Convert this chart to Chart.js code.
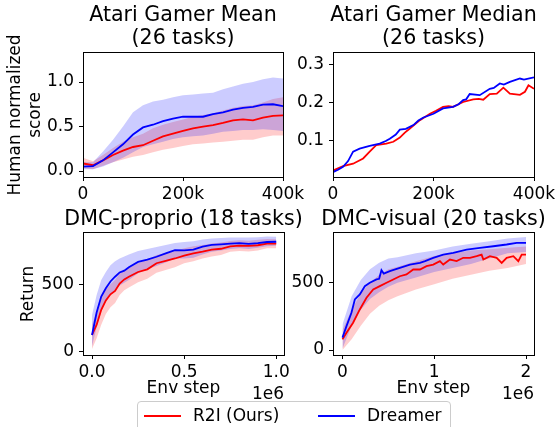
<!DOCTYPE html>
<html>
<head>
<meta charset="utf-8">
<script src="https://cdn.jsdelivr.net/npm/chart.js@4/dist/chart.umd.min.js"></script>
<style>
  body { margin: 0; width: 556px; height: 427px; overflow: hidden; background: #fff; position: relative;
         font-family: 'DejaVu Sans', sans-serif; color: #000; }
  canvas { position: absolute; }
  .title { position: absolute; font-size: 20.6px; line-height: 22.3px; text-align: center; white-space: nowrap; transform: translateX(-50%); }
  .lab { position: absolute; font-size: 17px; line-height: 20.4px; white-space: nowrap; }
  .ylab { position: absolute; font-size: 17px; line-height: 20.4px; white-space: nowrap; text-align: center;
          transform: translate(-50%, -50%) rotate(-90deg); }
  .legend { position: absolute; left: 137px; top: 401px; width: 314px; height: 40px; border: 1px solid #cccccc;
            border-radius: 4px; background: rgba(255,255,255,0.8); box-sizing: border-box; }
  .swatch { position: absolute; height: 2px; top: 13px; }
</style>
</head>
<body>
<canvas id="meanChart" width="313" height="171" style="left:0px;top:36px"></canvas>
<canvas id="medianChart" width="274" height="171" style="left:290px;top:36px"></canvas>
<canvas id="proprioChart" width="314" height="169" style="left:0px;top:216px"></canvas>
<canvas id="visualChart" width="274" height="169" style="left:290px;top:216px"></canvas>

<div class="title" style="left:183px;top:3.4px">Atari Gamer Mean<br>(26 tasks)</div>
<div class="title" style="left:433.5px;top:3.4px">Atari Gamer Median<br>(26 tasks)</div>
<div class="title" style="left:183.5px;top:206.7px">DMC-proprio (18 tasks)</div>
<div class="title" style="left:433.5px;top:206.7px">DMC-visual (20 tasks)</div>

<div class="ylab" style="left:24.3px;top:114.5px">Human normalized<br>score</div>
<div class="ylab" style="left:27.2px;top:293.5px">Return</div>

<div class="lab" style="left:183.5px;top:377px;transform:translateX(-50%)">Env step</div>
<div class="lab" style="left:433.5px;top:377px;transform:translateX(-50%)">Env step</div>
<div class="lab" style="right:272px;top:383px">1e6</div>
<div class="lab" style="right:22px;top:383px">1e6</div>

<div class="legend">
  <div class="swatch" style="left:6px;width:37px;background:#ff0000"></div>
  <div class="lab" style="left:55px;top:3px">R2I (Ours)</div>
  <div class="swatch" style="left:180px;width:37px;background:#0000ff"></div>
  <div class="lab" style="left:229px;top:3px">Dreamer</div>
</div>

<script>
// Atari gamer mean (x in thousands of env steps)
const atariX = [0, 20, 40, 60, 80, 100, 120, 140, 160, 180, 200, 220, 240, 260, 280, 300, 320, 340, 360, 380, 400];
const meanDreamer = [0.05, 0.055, 0.12, 0.21, 0.30, 0.41, 0.49, 0.52, 0.56, 0.59, 0.61, 0.61, 0.61, 0.64, 0.66, 0.69, 0.71, 0.72, 0.745, 0.75, 0.73];
const meanDreamerHi = [0.10, 0.10, 0.22, 0.35, 0.50, 0.66, 0.74, 0.78, 0.80, 0.83, 0.85, 0.86, 0.87, 0.88, 0.92, 0.95, 0.98, 1.00, 1.03, 1.05, 1.04];
const meanDreamerLo = [0.02, 0.02, 0.05, 0.10, 0.15, 0.21, 0.27, 0.30, 0.33, 0.36, 0.38, 0.39, 0.40, 0.42, 0.44, 0.45, 0.46, 0.46, 0.47, 0.46, 0.45];
const meanR2I = [0.085, 0.065, 0.12, 0.18, 0.23, 0.27, 0.29, 0.34, 0.39, 0.42, 0.45, 0.48, 0.50, 0.515, 0.54, 0.57, 0.58, 0.57, 0.60, 0.62, 0.625];
const meanR2IHi = [0.15, 0.11, 0.18, 0.26, 0.33, 0.38, 0.42, 0.48, 0.52, 0.55, 0.58, 0.61, 0.63, 0.65, 0.68, 0.71, 0.73, 0.74, 0.77, 0.81, 0.83];
const meanR2ILo = [0.03, 0.02, 0.06, 0.10, 0.13, 0.16, 0.18, 0.21, 0.24, 0.26, 0.28, 0.30, 0.31, 0.32, 0.33, 0.34, 0.35, 0.35, 0.38, 0.40, 0.40];

// Atari gamer median
const medianDreamerX = [0, 10, 20, 30, 40, 53, 73, 93, 105, 113, 125, 133, 145, 160, 170, 180, 200, 219, 239, 250, 259, 265, 272, 292, 312, 320, 332, 340, 352, 372, 380, 400];
const medianDreamer = [0.016, 0.022, 0.03, 0.045, 0.07, 0.078, 0.085, 0.091, 0.098, 0.104, 0.115, 0.128, 0.13, 0.14, 0.152, 0.16, 0.17, 0.184, 0.188, 0.195, 0.206, 0.208, 0.222, 0.219, 0.236, 0.238, 0.25, 0.247, 0.254, 0.263, 0.26, 0.266];
const medianR2IX = [0, 20, 40, 60, 73, 86, 106, 120, 133, 143, 153, 173, 193, 205, 219, 230, 239, 259, 279, 290, 299, 312, 326, 339, 352, 372, 382, 389, 400];
const medianR2I = [0.02, 0.032, 0.038, 0.052, 0.07, 0.087, 0.091, 0.096, 0.107, 0.12, 0.131, 0.153, 0.17, 0.178, 0.188, 0.19, 0.188, 0.201, 0.208, 0.209, 0.207, 0.222, 0.223, 0.239, 0.223, 0.22, 0.228, 0.245, 0.236];

// DMC-proprio (x in 1e6 env steps)
const proprioX = [0, 0.025, 0.05, 0.075, 0.1, 0.125, 0.15, 0.175, 0.2, 0.25, 0.3, 0.35, 0.4, 0.45, 0.5, 0.55, 0.6, 0.65, 0.7, 0.75, 0.8, 0.85, 0.9, 0.95, 1.0];
const proprioDreamer = [124, 290, 408, 470, 520, 555, 587, 600, 625, 665, 682, 703, 728, 752, 750, 755, 778, 790, 795, 800, 803, 798, 804, 812, 814];
const proprioDreamerHi = [272, 420, 530, 590, 640, 670, 690, 705, 720, 745, 760, 775, 790, 805, 812, 818, 830, 838, 842, 845, 846, 845, 848, 852, 850];
const proprioDreamerLo = [40, 180, 300, 370, 420, 455, 490, 510, 530, 580, 610, 635, 660, 690, 690, 695, 720, 740, 750, 760, 765, 760, 770, 780, 785];
const proprioR2I = [124, 200, 310, 380, 425, 450, 505, 535, 555, 590, 610, 655, 672, 690, 712, 728, 740, 755, 762, 780, 785, 783, 788, 800, 800];
const proprioR2IHi = [200, 300, 400, 460, 500, 530, 580, 600, 620, 655, 680, 715, 730, 745, 765, 780, 790, 800, 808, 820, 825, 822, 828, 835, 833];
const proprioR2ILo = [20, 100, 200, 280, 330, 360, 420, 455, 475, 515, 540, 585, 605, 625, 655, 670, 690, 705, 715, 740, 745, 742, 750, 765, 765];

// DMC-visual (x in 1e6 env steps)
const visualDreamerX = [0, 0.044, 0.098, 0.135, 0.189, 0.244, 0.298, 0.371, 0.4, 0.425, 0.45, 0.516, 0.625, 0.735, 0.844, 0.9, 0.989, 1.098, 1.207, 1.353, 1.498, 1.644, 1.789, 1.898, 2.0];
const visualDreamer = [92, 178, 277, 376, 413, 475, 500, 525, 530, 594, 569, 587, 611, 636, 648, 661, 686, 710, 723, 747, 760, 772, 785, 797, 797];
const visualR2IX = [0, 0.044, 0.116, 0.189, 0.262, 0.335, 0.407, 0.48, 0.553, 0.625, 0.698, 0.771, 0.844, 0.916, 0.989, 1.062, 1.098, 1.171, 1.244, 1.316, 1.389, 1.462, 1.516, 1.535, 1.607, 1.68, 1.735, 1.789, 1.862, 1.916, 1.953, 2.0];
const visualR2I = [79, 129, 203, 302, 389, 450, 475, 500, 525, 549, 562, 599, 599, 624, 636, 661, 636, 673, 661, 686, 686, 698, 710, 673, 698, 686, 648, 686, 698, 661, 710, 710];
const visualBandX = [0, 0.1, 0.2, 0.3, 0.4, 0.5, 0.6, 0.8, 1.0, 1.2, 1.4, 1.6, 1.8, 2.0];
const visualDreamerHi = [190, 400, 520, 600, 650, 680, 690, 720, 740, 770, 790, 810, 830, 840];
const visualDreamerLo = [10, 180, 300, 380, 430, 470, 500, 540, 580, 610, 640, 680, 720, 730];
const visualR2IHi = [150, 300, 420, 500, 560, 600, 620, 660, 700, 720, 740, 750, 760, 770];
const visualR2ILo = [0, 80, 180, 270, 330, 370, 400, 450, 490, 530, 560, 590, 610, 640];

// tick values and labels
const atariXTicks = [0, 200, 400];
const atariXLabels = ['0', '200k', '400k'];
const meanYTicks = [0, 0.5, 1.0];
const meanYLabels = ['0.0', '0.5', '1.0'];
const medianYTicks = [0.1, 0.2, 0.3];
const medianYLabels = ['0.1', '0.2', '0.3'];
const proprioXTicks = [0, 0.5, 1.0];
const proprioXLabels = ['0.0', '0.5', '1.0'];
const visualXTicks = [0, 1, 2];
const visualXLabels = ['0', '1', '2'];
const returnYTicks = [0, 500];
const returnYLabels = ['0', '500'];

Chart.defaults.font.family = "'DejaVu Sans', sans-serif";
Chart.defaults.color = '#000';

const RED = '#ff0000';
const BLUE = '#0000ff';

function pts(xs, ys) {
    return xs.map((x, i) => ({ x: x, y: ys[i] }));
}

function lineSet(xs, ys, color) {
    return { data: pts(xs, ys), borderColor: color, borderWidth: 1.8, pointRadius: 0, tension: 0, fill: false };
}

function bandSets(xs, hi, lo, fillColor) {
    return [
        { data: pts(xs, hi), borderColor: 'transparent', borderWidth: 0, pointRadius: 0, tension: 0, fill: '+1', backgroundColor: fillColor },
        { data: pts(xs, lo), borderColor: 'transparent', borderWidth: 0, pointRadius: 0, tension: 0, fill: false }
    ];
}

// draws the four spines
const frame = {
    id: 'frame',
    afterDraw(chart) {
        const { ctx, chartArea: a } = chart;
        ctx.save();
        ctx.strokeStyle = '#000';
        ctx.lineWidth = 1;
        ctx.strokeRect(Math.round(a.left) + 0.5, Math.round(a.top) + 0.5,
            Math.round(a.right) - Math.round(a.left), Math.round(a.bottom) - Math.round(a.top));
        ctx.restore();
    }
};

function axis(min, max, ticks, labels, fitSize, isY) {
    return {
        type: 'linear',
        min: min,
        max: max,
        grid: { display: true, drawOnChartArea: false, drawTicks: true, tickLength: 4, color: '#000', lineWidth: 1 },
        border: { display: false },
        afterBuildTicks: scale => { scale.ticks = ticks.map(v => ({ value: v })); },
        afterFit: scale => { if (isY) scale.width = fitSize; else scale.height = fitSize; },
        ticks: {
            autoSkip: false,
            maxRotation: 0,
            padding: isY ? 5 : 3,
            font: { size: 17 },
            color: '#000',
            callback: (v, i) => labels[i]
        }
    };
}

function makeChart(id, datasets, xAxis, yAxis) {
    new Chart(document.getElementById(id), {
        type: 'line',
        data: { datasets: datasets },
        options: {
            responsive: false,
            animation: false,
            parsing: false,
            layout: { padding: { top: 16, right: 30, bottom: 0, left: 0 } },
            plugins: { legend: { display: false }, tooltip: { enabled: false } },
            scales: { x: xAxis, y: yAxis }
        },
        plugins: [frame]
    });
}

makeChart('meanChart', [
    lineSet(atariX, meanDreamer, BLUE),
    lineSet(atariX, meanR2I, RED),
    ...bandSets(atariX, meanDreamerHi, meanDreamerLo, 'rgba(0,0,255,0.2)'),
    ...bandSets(atariX, meanR2IHi, meanR2ILo, 'rgba(255,0,0,0.2)')
], axis(0, 400, atariXTicks, atariXLabels, 30, false), axis(-0.067, 1.337, meanYTicks, meanYLabels, 83, true));

makeChart('medianChart', [
    lineSet(medianDreamerX, medianDreamer, BLUE),
    lineSet(medianR2IX, medianR2I, RED)
], axis(0, 400, atariXTicks, atariXLabels, 30, false), axis(0.003, 0.333, medianYTicks, medianYLabels, 43, true));

makeChart('proprioChart', [
    lineSet(proprioX, proprioDreamer, BLUE),
    lineSet(proprioX, proprioR2I, RED),
    ...bandSets(proprioX, proprioDreamerHi, proprioDreamerLo, 'rgba(0,0,255,0.2)'),
    ...bandSets(proprioX, proprioR2IHi, proprioR2ILo, 'rgba(255,0,0,0.2)')
], axis(-0.049, 1.042, proprioXTicks, proprioXLabels, 30, false), axis(-24, 886, returnYTicks, returnYLabels, 83, true));

makeChart('visualChart', [
    lineSet(visualDreamerX, visualDreamer, BLUE),
    lineSet(visualR2IX, visualR2I, RED),
    ...bandSets(visualBandX, visualDreamerHi, visualDreamerLo, 'rgba(0,0,255,0.2)'),
    ...bandSets(visualBandX, visualR2IHi, visualR2ILo, 'rgba(255,0,0,0.2)')
], axis(-0.103, 2.087, visualXTicks, visualXLabels, 30, false), axis(-37, 878, returnYTicks, returnYLabels, 43, true));
</script>
</body>
</html>
